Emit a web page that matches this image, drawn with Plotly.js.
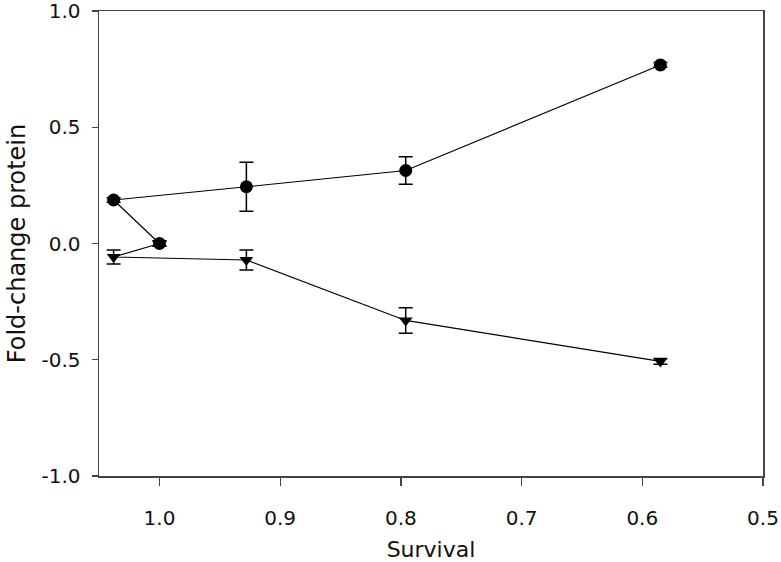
<!DOCTYPE html>
<html>
<head>
<meta charset="utf-8">
<script src="https://cdn.plot.ly/plotly-3.0.1.min.js"></script>
<style>html,body{margin:0;padding:0;background:#fff;}#chart{width:781px;height:562px;}</style>
</head>
<body>
<div id="chart"></div>
<script>
// Survival (x) values, in plotting order
const survival = [1.0, 1.038, 0.928, 0.796, 0.585];
// Circle series
const circleY = [0.0, 0.187, 0.244, 0.314, 0.768];
const circleErr = [0.012, 0.01, 0.105, 0.059, 0.01];
// Triangle series
const triY = [0.0, -0.058, -0.071, -0.331, -0.507];
const triErr = [0.01, 0.030, 0.043, 0.055, 0.012];

const xTicks = [1.0, 0.9, 0.8, 0.7, 0.6, 0.5];
const xTickText = ['1.0', '0.9', '0.8', '0.7', '0.6', '0.5'];
const yTicks = [-1.0, -0.5, 0.0, 0.5, 1.0];
const yTickText = ['-1.0', '-0.5', '0.0', '0.5', '1.0'];

const font = 'DejaVu Sans, sans-serif';

const traces = [
  {
    x: survival, y: triY, type: 'scatter', mode: 'lines+markers',
    line: {color: '#000', width: 1.2},
    marker: {symbol: 'triangle-down', size: 12, color: '#000'},
    error_y: {type: 'data', array: triErr, visible: true, color: '#000', thickness: 1.5, width: 7},
    showlegend: false, cliponaxis: false
  },
  {
    x: survival, y: circleY, type: 'scatter', mode: 'lines+markers',
    line: {color: '#000', width: 1.2},
    marker: {symbol: 'circle', size: 13, color: '#000'},
    error_y: {type: 'data', array: circleErr, visible: true, color: '#000', thickness: 1.5, width: 7},
    showlegend: false, cliponaxis: false
  }
];

const layout = {
  width: 781, height: 562,
  margin: {l: 99, r: 18, t: 11, b: 86},
  paper_bgcolor: '#fff', plot_bgcolor: '#fff',
  font: {family: font, color: '#111', size: 20},
  xaxis: {
    range: [1.0501, 0.5],
    tickvals: xTicks, ticktext: xTickText,
    ticks: 'outside', ticklen: 8, tickwidth: 1.3, tickcolor: '#444',
    showline: true, linecolor: '#444', linewidth: 1.5, mirror: true,
    showgrid: false, zeroline: false,
    tickfont: {family: font, size: 20, color: '#111'},
    ticklabelstandoff: 15, ticklabeloverflow: 'allow',
    title: {text: 'Survival', font: {family: font, size: 22, color: '#111'}, standoff: 14},
    automargin: false
  },
  yaxis: {
    range: [-1.0, 1.0],
    tickvals: yTicks, ticktext: yTickText,
    ticks: 'outside', ticklen: 6, tickwidth: 1.3, tickcolor: '#444',
    showline: true, linecolor: '#444', linewidth: 1.5, mirror: true,
    showgrid: false, zeroline: false,
    tickfont: {family: font, size: 20, color: '#111'},
    ticklabelstandoff: 7, ticklabeloverflow: 'allow',
    title: {text: 'Fold-change protein', font: {family: font, size: 24, color: '#111'}, standoff: 9},
    automargin: false
  }
};

Plotly.newPlot('chart', traces, layout, {displayModeBar: false, staticPlot: true});
</script>
</body>
</html>
